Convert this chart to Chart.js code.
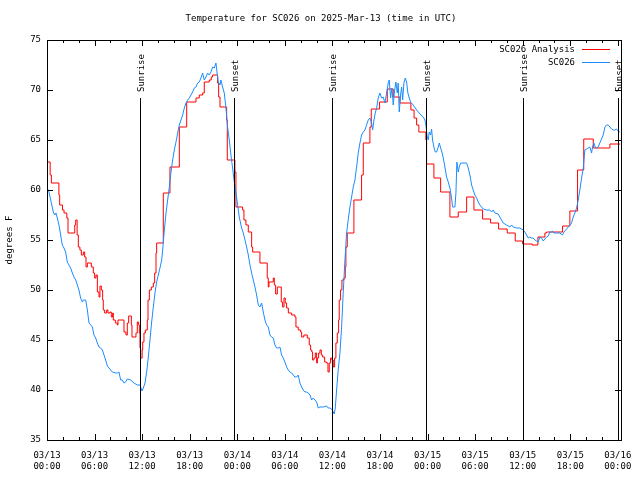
<!DOCTYPE html>
<html>
<head>
<meta charset="utf-8">
<script src="https://cdn.jsdelivr.net/npm/chart.js@4.4.1/dist/chart.umd.min.js"></script>
<style>
  html,body{margin:0;padding:0;background:#fff}
  canvas{display:block}
</style>
</head>
<body>
<canvas id="c" width="640" height="480"></canvas>
<script>
// ---- data (hours since 2025-03-13 00:00 UTC, degrees F) ----
const chartTitle   = 'Temperature for SC026 on 2025-Mar-13 (time in UTC)';
const seriesNames  = ['SC026 Analysis', 'SC026'];
const seriesColors = ['#ff0000', '#1a8cff'];

const xTickHours  = [0, 6, 12, 18, 24, 30, 36, 42, 48, 54, 60, 66, 72];
const xTickLabels = [
  ['03/13','00:00'],['03/13','06:00'],['03/13','12:00'],['03/13','18:00'],
  ['03/14','00:00'],['03/14','06:00'],['03/14','12:00'],['03/14','18:00'],
  ['03/15','00:00'],['03/15','06:00'],['03/15','12:00'],['03/15','18:00'],
  ['03/16','00:00']
];
const yTickValues = [35, 40, 45, 50, 55, 60, 65, 70, 75];

const sunHours  = [11.73, 23.62, 35.98, 47.83, 60.06, 71.97];
const sunLabels = ['Sunrise', 'Sunset', 'Sunrise', 'Sunset', 'Sunrise', 'Sunset'];

// analysis values (step series: value starts at given hour)
const analysisSeries = [
  [0,62.8],[0.4,61.5],[0.55,60.7],[1.5,59.5],[1.6,58.5],[1.95,58.0],[2.15,57.7],[2.5,57.2],[2.65,55.7],
  [3.5,56.5],[3.62,57.0],[3.8,55.5],[3.95,54.3],[4.15,54.0],[4.33,53.5],[4.58,53.8],[4.75,53.3],[4.92,52.3],
  [5.09,52.7],[5.59,52.3],[5.84,51.7],[6.01,51.2],[6.18,51.5],[6.35,49.8],[6.56,49.3],[6.68,50.4],[6.85,50.0],
  [7.02,49.0],[7.1,48.0],[7.27,47.7],[7.52,48.0],[7.69,47.7],[7.94,47.8],[8.11,47.3],[8.28,47.7],[8.36,47.0],
  [8.62,46.7],[8.87,46.5],[8.95,47.0],[9.71,45.8],[9.96,45.5],[10.13,46.7],[10.3,47.4],[10.64,46.5],[10.72,45.3],
  [11.22,45.7],[11.39,46.8],[11.56,46.5],[11.65,45.7],[11.73,44.2],[11.81,43.2],[12.0,44.0],[12.07,44.8],
  [12.23,45.7],[12.4,46.0],[12.65,47.0],[12.74,49.0],[12.91,50.0],[13.16,50.3],[13.41,50.7],[13.58,51.7],
  [13.75,53.7],[13.83,54.7],[14.67,59.7],[15.51,62.3],[16.69,66.3],[17.62,68.8],[18.79,69.2],[19.2,69.5],
  [19.63,69.7],[19.84,70.8],[20.47,71.0],[20.72,71.3],[20.89,71.5],[21.52,70.7],[21.65,69.3],[21.82,68.3],
  [22.66,67.0],[22.74,63.0],[23.7,61.8],[23.83,58.3],[24.67,58.0],[24.84,57.0],[25.09,56.5],[25.39,55.8],
  [25.81,54.3],[25.94,53.8],[26.86,52.7],[27.78,51.2],[27.91,50.3],[28.0,50.8],[28.54,51.2],[28.67,50.5],
  [28.84,49.6],[29.05,50.3],[29.55,48.8],[29.72,48.3],[29.89,49.2],[30.05,48.7],[30.22,48.2],[30.44,47.7],
  [30.86,47.5],[31.27,47.3],[31.4,46.3],[31.69,46.0],[31.99,45.8],[32.12,45.3],[32.4,45.5],[32.83,45.2],
  [33.08,44.5],[33.25,44.0],[33.4,43.8],[33.5,43.0],[33.67,43.2],[33.84,43.7],[34.01,42.7],[34.1,43.2],
  [34.26,43.7],[34.43,44.0],[34.6,43.5],[34.76,43.3],[35.02,42.8],[35.27,42.7],[35.44,41.8],[35.6,42.7],
  [35.77,43.2],[35.95,43.0],[36.11,42.3],[36.28,43.2],[36.44,44.7],[36.61,45.7],[36.78,47.0],[36.86,49.0],
  [37.03,50.0],[37.2,51.0],[37.45,51.2],[37.62,52.3],[37.7,54.3],[37.87,55.7],[38.71,59.0],[39.68,61.5],
  [39.89,64.7],[40.73,66.3],[40.9,68.1],[41.95,68.8],[42.92,70.1],[43.67,69.3],[44.51,68.7],[45.9,68.0],
  [46.3,67.2],[46.62,66.5],[46.9,65.8],[47.79,65.0],[47.88,62.6],[48.8,61.2],[49.65,59.8],[50.82,57.3],
  [51.87,57.8],[52.93,59.3],[53.85,58.0],[54.94,57.1],[55.95,56.7],[56.96,56.1],[58.05,55.7],[59.06,54.9],
  [59.99,54.6],[61.2,54.5],[61.92,55.3],[62.8,55.7],[63.01,55.8],[65.03,56.4],[65.95,57.9],[66.92,62.0],
  [67.7,65.1],[68.9,64.2],[71.0,64.6],[72.3,64.6]
];

// station observations
const stationSeries = [
  [0,61.2],[0.04,60.2],[0.25,59.8],[0.55,58.7],[0.8,57.8],[0.97,57.5],[1.13,57.7],[1.3,57.2],[1.51,56.5],
  [1.72,55.5],[1.93,54.5],[2.14,54.2],[2.35,53.8],[2.56,52.8],[2.77,52.5],[2.98,52.2],[3.2,51.7],[3.4,51.3],
  [3.62,51.0],[3.83,50.5],[4.03,50.0],[4.24,49.2],[4.46,48.8],[4.58,49.0],[4.88,49.0],[5.09,48.0],[5.3,46.7],
  [5.51,46.5],[5.72,46.3],[5.93,45.5],[6.14,45.2],[6.35,44.7],[6.56,44.3],[6.77,44.2],[6.98,44.0],[7.19,43.5],
  [7.4,43.0],[7.61,42.4],[7.82,42.2],[8.03,42.0],[8.24,41.8],[8.66,41.7],[8.87,41.7],[9.08,41.8],[9.29,41.0],
  [9.5,41.0],[9.71,40.7],[9.92,40.8],[10.13,41.1],[10.55,41.0],[10.97,40.7],[11.39,40.5],[11.73,40.5],
  [11.98,39.9],[12.15,40.2],[12.36,40.7],[12.57,41.8],[12.78,43.3],[12.99,45.0],[13.2,46.8],[13.41,48.3],
  [13.62,49.7],[13.83,50.8],[14.04,51.5],[14.25,52.2],[14.46,53.0],[14.59,54.0],[14.8,56.0],[15.01,57.7],
  [15.22,59.0],[15.43,60.3],[15.64,61.8],[15.85,63.0],[16.06,64.0],[16.27,64.8],[16.48,65.7],[16.69,66.5],
  [16.9,67.0],[17.11,67.5],[17.32,68.2],[17.53,68.7],[17.74,69.0],[17.95,69.2],[18.16,69.5],[18.37,69.8],
  [18.58,70.2],[18.79,70.3],[19.0,70.7],[19.21,70.8],[19.42,71.2],[19.63,71.7],[19.84,71.0],[20.05,71.3],
  [20.26,71.7],[20.47,71.5],[20.68,71.8],[20.89,72.3],[21.1,72.2],[21.31,72.7],[21.44,71.8],[21.61,70.8],
  [21.82,70.5],[21.94,71.0],[22.15,70.3],[22.36,69.7],[22.57,68.2],[22.78,66.3],[22.99,65.0],[23.2,63.5],
  [23.41,62.2],[23.62,60.8],[23.83,59.7],[24.05,58.5],[24.25,57.3],[24.55,56.2],[24.76,55.7],[24.97,55.0],
  [25.18,54.3],[25.39,53.5],[25.6,52.5],[25.81,51.7],[26.02,51.0],[26.23,50.3],[26.44,49.5],[26.65,48.5],
  [26.86,48.3],[27.07,48.7],[27.28,47.8],[27.49,47.0],[27.7,46.5],[27.91,46.3],[28.12,45.5],[28.33,45.3],
  [28.54,45.2],[28.75,44.5],[28.96,44.2],[29.17,44.2],[29.38,44.3],[29.59,43.5],[29.8,43.2],[30.01,42.8],
  [30.22,42.3],[30.43,42.0],[30.64,41.8],[30.86,41.7],[31.06,41.5],[31.27,41.3],[31.49,41.3],[31.69,41.5],
  [31.9,40.7],[32.12,40.3],[32.32,40.0],[32.53,39.8],[32.75,39.8],[32.95,39.7],[33.17,39.5],[33.38,39.0],
  [33.58,39.2],[33.8,39.0],[34.01,38.8],[34.21,38.2],[34.43,38.3],[34.84,38.3],[35.27,38.4],[35.47,38.2],
  [35.69,38.2],[35.9,38.1],[36.11,37.8],[36.23,37.6],[36.36,38.2],[36.53,40.0],[36.73,42.0],[36.95,43.7],
  [37.16,46.3],[37.36,49.7],[37.58,53.0],[37.79,55.7],[37.99,57.0],[38.21,58.3],[38.42,59.3],[38.63,60.3],
  [38.84,61.0],[39.05,62.3],[39.26,63.7],[39.47,64.7],[39.68,65.5],[39.89,65.8],[40.1,66.0],[40.31,66.5],
  [40.52,67.0],[40.73,67.2],[40.94,66.7],[41.07,66.0],[41.24,67.0],[41.4,67.7],[41.58,68.2],[41.78,69.2],
  [41.99,69.7],[42.2,69.2],[42.41,69.3],[42.62,68.7],[42.84,69.7],[43.04,70.7],[43.17,71.0],[43.34,69.2],
  [43.51,70.2],[43.67,68.5],[43.85,70.0],[44.01,70.8],[44.18,69.7],[44.3,70.7],[44.43,67.8],[44.6,69.5],
  [44.73,70.3],[44.86,69.0],[45.02,70.7],[45.19,71.2],[45.36,70.8],[45.52,69.7],[45.69,69.2],[45.86,68.8],
  [46.19,68.5],[46.62,68.0],[47.04,67.6],[47.46,67.3],[47.67,67.0],[47.79,66.5],[47.96,65.3],[48.09,65.0],
  [48.21,65.8],[48.38,65.5],[48.51,66.1],[48.63,65.0],[48.8,64.3],[48.97,63.8],[49.14,63.8],[49.35,64.3],
  [49.48,64.7],[49.65,64.2],[49.81,63.8],[49.98,63.2],[50.19,62.3],[50.4,61.3],[50.61,60.8],[50.82,60.2],
  [51.03,59.2],[51.16,58.3],[51.45,58.3],[51.58,59.7],[51.7,62.8],[51.87,61.8],[52.0,62.3],[52.17,62.7],
  [52.93,62.7],[53.13,62.2],[53.34,61.5],[53.56,60.5],[53.76,60.0],[53.97,59.5],[54.19,59.2],[54.39,58.8],
  [54.6,58.5],[55.02,58.1],[55.45,58.0],[55.86,58.0],[56.08,57.8],[56.28,58.0],[56.49,57.7],[56.91,57.6],
  [57.12,57.3],[57.54,56.7],[57.97,56.5],[58.39,56.3],[58.6,56.5],[58.8,56.3],[59.23,56.2],[59.65,56.2],
  [60.06,56.0],[60.28,55.8],[60.49,55.5],[60.7,55.2],[60.91,55.3],[61.12,55.2],[61.32,55.2],[61.54,55.0],
  [61.75,54.9],[61.96,54.8],[62.17,55.3],[62.38,55.2],[62.59,54.9],[62.8,55.1],[63.01,55.3],[63.22,55.4],
  [63.43,55.8],[63.64,55.8],[63.77,55.9],[63.93,55.7],[64.27,55.7],[64.69,55.7],[65.03,55.5],[65.2,55.8],
  [65.53,56.1],[65.74,56.3],[65.95,56.5],[66.16,56.7],[66.37,57.3],[66.58,57.7],[66.8,58.2],[67.0,59.0],
  [67.21,60.0],[67.43,61.2],[67.64,62.2],[67.84,64.0],[68.06,64.1],[68.26,64.2],[68.47,64.3],[68.69,63.7],
  [68.81,64.3],[68.98,64.7],[69.14,64.3],[69.32,64.2],[69.52,64.3],[69.73,64.7],[69.95,65.1],[70.15,65.5],
  [70.37,66.3],[70.58,66.5],[70.78,66.5],[71.0,66.3],[71.21,66.1],[71.41,66.0],[71.63,66.0],[71.84,66.1],
  [72.05,65.9],[72.26,65.8]
];

const FONT = "'DejaVu Sans Mono', 'Liberation Mono', monospace";
Chart.defaults.font.family = FONT;
Chart.defaults.font.size = 9;
Chart.defaults.color = '#000';

const toXY = arr => arr.map(p => ({x: p[0], y: p[1]}));
const px = v => Math.round(v) + 0.5;

// gnuplot-style frame: border, inward ticks, sun lines, legend, title
const framePlugin = {
  id: 'frame',
  afterDatasetsDraw(chart){
    const {ctx, chartArea: a, scales: {x}} = chart;
    ctx.save();
    ctx.strokeStyle = '#000';
    ctx.fillStyle = '#000';
    ctx.lineWidth = 1;
    ctx.font = '9px ' + FONT;
    sunHours.forEach((h, i) => {
      const lx = px(x.getPixelForValue(h));
      ctx.beginPath(); ctx.moveTo(lx, 98); ctx.lineTo(lx, a.bottom); ctx.stroke();
      ctx.save();
      ctx.translate(lx + 1, 92);
      ctx.rotate(-Math.PI / 2);
      ctx.textAlign = 'left'; ctx.textBaseline = 'middle';
      ctx.fillText(sunLabels[i], 0, 0);
      ctx.restore();
    });
    ctx.restore();
  },
  afterDraw(chart){
    const {ctx, chartArea: a, scales: {x, y}} = chart;
    ctx.save();
    ctx.strokeStyle = '#000';
    ctx.lineWidth = 1;
    // ticks, every 2h on x (major every 6h), every 5 on y
    ctx.beginPath();
    for(let h = 0; h <= 72; h += 2){
      const tx = px(x.getPixelForValue(h));
      const len = h % 6 === 0 ? 6 : 3;
      ctx.moveTo(tx, a.bottom); ctx.lineTo(tx, a.bottom - len);
      ctx.moveTo(tx, a.top);    ctx.lineTo(tx, a.top + len);
    }
    yTickValues.forEach(v => {
      const ty = px(y.getPixelForValue(v));
      ctx.moveTo(a.left, ty);  ctx.lineTo(a.left + 6, ty);
      ctx.moveTo(a.right, ty); ctx.lineTo(a.right - 6, ty);
    });
    ctx.stroke();
    ctx.strokeRect(px(a.left), px(a.top), Math.round(a.right - a.left), Math.round(a.bottom - a.top));

    // legend
    ctx.font = '9px ' + FONT;
    ctx.textAlign = 'right'; ctx.textBaseline = 'middle';
    seriesNames.forEach((name, i) => {
      const ly = 50 + i * 12.5;
      ctx.fillStyle = '#000';
      ctx.fillText(name, 575, ly);
      ctx.strokeStyle = seriesColors[i];
      ctx.beginPath(); ctx.moveTo(582, px(ly - 1)); ctx.lineTo(610, px(ly - 1)); ctx.stroke();
    });

    // title
    ctx.fillStyle = '#000';
    ctx.textAlign = 'center'; ctx.textBaseline = 'middle';
    ctx.fillText(chartTitle, 321, 19);
    ctx.restore();
  }
};

new Chart(document.getElementById('c'), {
  type: 'line',
  data: {
    datasets: [
      {label: seriesNames[0], data: toXY(analysisSeries), borderColor: seriesColors[0],
       borderWidth: 1, pointRadius: 0, stepped: 'before', order: 1},
      {label: seriesNames[1], data: toXY(stationSeries), borderColor: seriesColors[1],
       borderWidth: 1, pointRadius: 0, tension: 0, order: 0}
    ]
  },
  options: {
    responsive: false,
    animation: false,
    devicePixelRatio: 1,
    layout: {padding: {top: 40, right: 19, left: 0, bottom: 0}},
    plugins: {legend: {display: false}, tooltip: {enabled: false}},
    scales: {
      x: {
        type: 'linear', min: 0, max: 72.4,
        grid: {display: false}, border: {display: false},
        afterFit: s => { s.height = 40; },
        afterBuildTicks: s => { s.ticks = xTickHours.map(v => ({value: v})); },
        ticks: {
          autoSkip: false, maxRotation: 0, padding: 2,
          font: {size: 9, lineHeight: 1.25},
          callback: v => {
            const i = xTickHours.indexOf(v);
            return i >= 0 ? xTickLabels[i] : '';
          }
        }
      },
      y: {
        min: 35, max: 75,
        grid: {display: false}, border: {display: false},
        afterFit: s => { s.width = 47; },
        afterBuildTicks: s => { s.ticks = yTickValues.map(v => ({value: v})); },
        ticks: {padding: -2},
        title: {display: true, text: 'degrees F', padding: {top: 4, bottom: 0}}
      }
    }
  },
  plugins: [framePlugin]
});
</script>
</body>
</html>
